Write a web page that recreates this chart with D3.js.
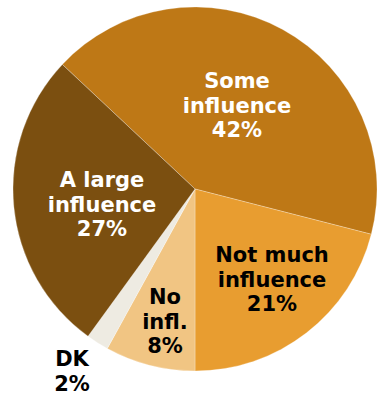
<!DOCTYPE html>
<html>
<head>
<meta charset="utf-8">
<script src="https://cdn.jsdelivr.net/npm/d3@7/dist/d3.min.js"></script>
<style>
  html, body { margin: 0; padding: 0; background: #fff; }
  svg { display: block; }
  text { font-family: "DejaVu Sans", Verdana, sans-serif; font-weight: bold; }
</style>
</head>
<body>
<svg id="chart" width="377" height="397"></svg>
<script>
// Share of respondents by degree of influence (clockwise from "Some influence")
const categories = ["Some influence", "Not much influence", "No infl.", "DK", "A large influence"];
const values = [42, 21, 8, 2, 27];
const labelLines = [
  ["Some", "influence", "42%"],
  ["Not much", "influence", "21%"],
  ["No", "infl.", "8%"],
  ["DK", "2%"],
  ["A large", "influence", "27%"]
];

const colors = ["#BE7816", "#E89D30", "#F1C583", "#EEEBE2", "#7B4F10"];
const textColors = ["#fff", "#000", "#000", "#000", "#fff"];
// label anchors (x, first baseline)
const labelAnchors = [[237, 88], [272, 262], [165, 304], [72, 366], [102, 187]];

const svg = d3.select("#chart");
const cx = 195, cy = 189, radius = 182;
const startAngle = -46.8 * Math.PI / 180;

const pie = d3.pie()
  .sort(null)
  .value(d => d.value)
  .startAngle(startAngle)
  .endAngle(startAngle + 2 * Math.PI);

const arc = d3.arc().innerRadius(0).outerRadius(radius);

const data = categories.map((c, i) => ({ category: c, value: values[i] }));

const g = svg.append("g").attr("transform", `translate(${cx},${cy})`);

g.selectAll("path")
  .data(pie(data))
  .join("path")
  .attr("d", arc)
  .attr("fill", (d, i) => colors[i])
  .attr("stroke", "rgba(255,255,255,0.45)")
  .attr("stroke-width", 0.6);

const lineHeight = 24.5;
const labels = svg.append("g");
labelLines.forEach((lines, i) => {
  const t = labels.append("text")
    .attr("text-anchor", "middle")
    .attr("font-size", 21)
    .attr("fill", textColors[i]);
  lines.forEach((ln, j) => {
    t.append("tspan")
      .attr("x", labelAnchors[i][0])
      .attr("y", labelAnchors[i][1] + j * lineHeight)
      .text(ln);
  });
});
</script>
</body>
</html>
